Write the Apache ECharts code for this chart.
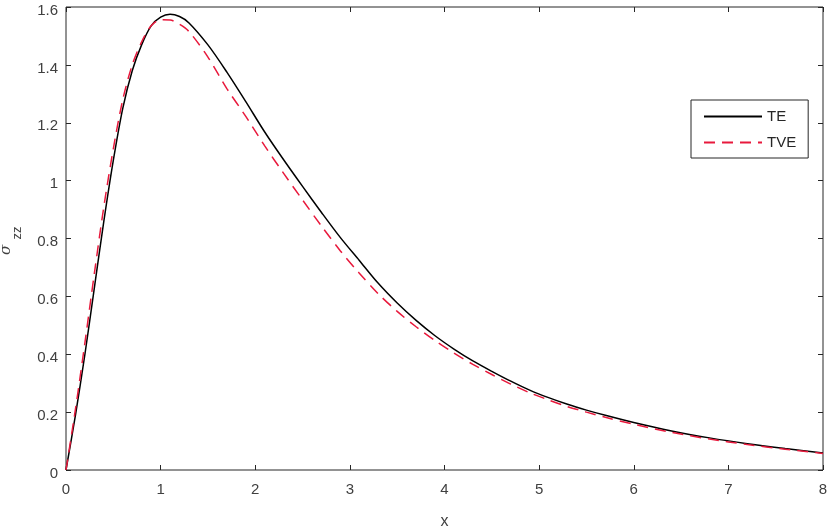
<!DOCTYPE html>
<html>
<head>
<meta charset="utf-8">
<script src="https://cdn.jsdelivr.net/npm/echarts@6/dist/echarts.min.js"></script>
<style>html,body{margin:0;padding:0;background:#fff}#c{width:830px;height:529px}</style>
</head>
<body>
<div id="c"></div>
<script>
const xVals = [0,0.1,0.2,0.3,0.4,0.5,0.6,0.7,0.8,0.9,1.0,1.1,1.2,1.3,1.5,1.7,1.9,2.1,2.3,2.5,2.7,2.9,3.1,3.3,3.5,3.7,3.9,4.1,4.3,4.5,4.7,4.9,5.1,5.3,5.5,5.7,6.0,6.4,6.8,7.2,7.6,8.0];
const yTE  = [0,0.19,0.40,0.63,0.86,1.07,1.25,1.38,1.47,1.535,1.565,1.575,1.567,1.545,1.469,1.375,1.273,1.168,1.072,0.980,0.890,0.803,0.724,0.645,0.577,0.517,0.464,0.418,0.377,0.341,0.307,0.276,0.250,0.227,0.207,0.189,0.164,0.135,0.111,0.091,0.074,0.059];
const yTVE = [0,0.21,0.44,0.68,0.91,1.11,1.28,1.40,1.48,1.535,1.556,1.555,1.540,1.515,1.427,1.318,1.222,1.120,1.025,0.933,0.843,0.757,0.680,0.609,0.548,0.495,0.447,0.404,0.365,0.330,0.297,0.267,0.242,0.219,0.200,0.182,0.158,0.130,0.107,0.088,0.072,0.057];
const xTicks = [0,1,2,3,4,5,6,7,8];
const yTicks = [0,0.2,0.4,0.6,0.8,1,1.2,1.4,1.6];

const chart = echarts.init(document.getElementById('c'), null, {renderer:'canvas'});
const axCol = '#262626';
const lblCol = '#404040';
const font = 'Liberation Sans, Arial, sans-serif';
const pairs = (xs, ys) => xs.map((x,i)=>[x, ys[i]]);
// Axes shifted 5px into the plot; their (transparent-lined) outward ticks end on the frame.
function mkX(pos, showLabel){
  return {type:'value', position:pos, offset:-5, min:xTicks[0], max:xTicks[xTicks.length-1], interval:1,
    axisLine:{show:true, onZero:false, lineStyle:{color:axCol, opacity:0, width:1}},
    axisTick:{show:true, inside:false, length:5, lineStyle:{color:axCol, opacity:1, width:1}},
    axisLabel: showLabel
      ? {show:true, color:lblCol, fontSize:15, fontFamily:font, margin:17}
      : {show:true, formatter:function(){return '';}},
    splitLine:{show:false}};
}
function mkY(pos, showLabel){
  return {type:'value', position:pos, offset:-5, min:yTicks[0], max:yTicks[yTicks.length-1], interval:0.2,
    axisLine:{show:true, onZero:false, lineStyle:{color:axCol, opacity:0, width:1}},
    axisTick:{show:true, inside:false, length:5, lineStyle:{color:axCol, opacity:1, width:1}},
    axisLabel: showLabel
      ? {show:true, color:lblCol, fontSize:15, fontFamily:font, margin:13, verticalAlign:'top', lineHeight:7}
      : {show:true, formatter:function(){return '';}},
    splitLine:{show:false}};
}
const xb = mkX('bottom', true);
xb.name = 'x'; xb.nameLocation = 'middle'; xb.nameGap = 49;
xb.nameTextStyle = {color:lblCol, fontSize:16, fontFamily:font};
chart.setOption({
  animation:false,
  backgroundColor:'#fff',
  grid:{left:66, right:7, top:7, bottom:59, outerBoundsMode:'none', containLabel:false,
        show:true, borderColor:axCol, borderWidth:1, backgroundColor:'transparent'},
  xAxis:[xb, mkX('top', false)],
  yAxis:[mkY('left', true), mkY('right', false)],
  legend:{
    show:true, orient:'vertical', left:691, top:100,
    backgroundColor:'#fff', borderColor:axCol, borderWidth:1,
    padding:[9,12,8,12], itemWidth:58, itemHeight:14, itemGap:11,
    itemStyle:{opacity:0},
    textStyle:{color:'#262626', fontSize:15, fontFamily:font},
    data:['TE','TVE']
  },
  series:[
    {name:'TE', type:'line', xAxisIndex:0, yAxisIndex:0, data:pairs(xVals,yTE), smooth:0.3, symbol:'none',
     lineStyle:{color:'#000', width:1.5}, itemStyle:{color:'#000'}, z:3},
    {name:'TVE', type:'line', xAxisIndex:1, yAxisIndex:1, data:pairs(xVals,yTVE), smooth:0.3, symbol:'none',
     lineStyle:{color:'#e8193c', width:1.5, type:[11,7]}, itemStyle:{color:'#e8193c'}, z:4}
  ],
  graphic:[{
    type:'group', x:6, y:250, rotation:Math.PI/2,
    children:[
      {type:'text', x:0, y:0, style:{text:'σ', font:'italic 15px DejaVu Serif, serif', fill:lblCol, align:'center', verticalAlign:'middle'}},
      {type:'text', x:17, y:11, style:{text:'zz', font:'13px Liberation Sans, Arial, sans-serif', fill:lblCol, align:'center', verticalAlign:'middle'}}
    ]
  }]
});
</script>
</body>
</html>
